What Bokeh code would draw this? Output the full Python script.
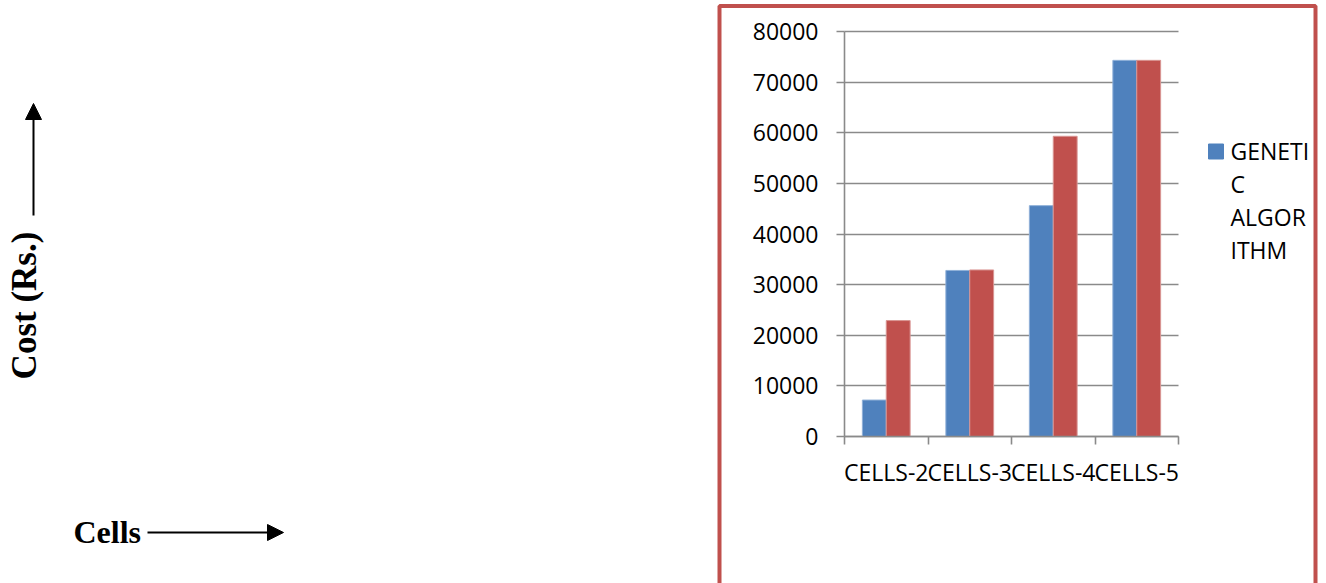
import math
from bokeh.plotting import figure
from bokeh.models import (Range1d, LinearAxis, FixedTicker, Grid, Arrow, NormalHead,
                          ColumnDataSource)
from bokeh.transform import dodge
from bokeh.core.properties import value
from bokeh.embed import file_html
from bokeh.resources import INLINE

# ---- data ----
categories = ["CELLS-2", "CELLS-3", "CELLS-4", "CELLS-5"]
genetic = [7200, 32800, 45600, 74300]
other = [22900, 32900, 59300, 74300]
y_ticks = [0, 10000, 20000, 30000, 40000, 50000, 60000, 70000, 80000]
legend_lines = ["GENETI", "C", "ALGOR", "ITHM"]
y_title = "Cost (Rs.)"
x_title = "Cells"

W, H = 1326, 583
BLUE = "#4F81BD"
RED = "#C0504D"
GRID = "#8a8a8a"
FONT = "Open Sans"
FS = "23px"

# pixel geometry of the plotting area
px_left, px_right, px_top, px_bottom = 844.0, 1178.0, 31.0, 436.0
n = len(categories)
ux = (px_right - px_left) / n
uy = (px_bottom - px_top) / y_ticks[-1]
x0 = -px_left / ux
x1 = (W - px_left) / ux
y1 = y_ticks[-1] + px_top / uy
y0 = -(H - px_bottom) / uy

p = figure(width=W, height=H, output_backend="svg", toolbar_location=None,
           x_range=Range1d(x0, x1), y_range=Range1d(y0, y1),
           x_axis_location=None, y_axis_location=None,
           min_border=0, min_border_left=0, min_border_right=0,
           min_border_top=0, min_border_bottom=0,
           outline_line_color=None, background_fill_color="white",
           border_fill_color="white")
p.grid.visible = False
p.extra_x_ranges = {"px": Range1d(0, W)}
p.extra_y_ranges = {"px": Range1d(H, 0)}

# red frame around the chart
p.quad(left=[719], right=[1315], top=[5.5], bottom=[640], fill_color=None,
       line_color=RED, line_width=4, x_range_name="px", y_range_name="px")

# grid
ygrid = Grid(dimension=1, ticker=FixedTicker(ticks=y_ticks), bounds=(0, y_ticks[-1]),
             cross_bounds=(0, n), grid_line_color=GRID, grid_line_width=1.6)
p.add_layout(ygrid)

# bars
centers = [i + 0.5 for i in range(n)]
src = ColumnDataSource(dict(x=centers, genetic=genetic, other=other))
bw = 0.286
p.vbar(x=dodge("x", -0.143, range=p.x_range), top="genetic", bottom=0, width=bw,
       source=src, fill_color=BLUE, line_color="#8fb0d8", line_width=1)
p.vbar(x=dodge("x", 0.143, range=p.x_range), top="other", bottom=0, width=bw,
       source=src, fill_color=RED, line_color="#d99593", line_width=1)

# axes
yaxis = LinearAxis(fixed_location=0, ticker=FixedTicker(ticks=y_ticks),
                   bounds=(0, y_ticks[-1]), axis_line_color=GRID, axis_line_width=1.6,
                   major_tick_line_color=GRID, major_tick_line_width=1.6,
                   major_tick_out=8, major_tick_in=0, minor_tick_line_color=None,
                   major_label_text_font=FONT, major_label_text_font_size=FS,
                   major_label_text_color="black", major_label_standoff=18)
p.add_layout(yaxis, "left")

overrides = {c: lab for c, lab in zip(centers, categories)}
xaxis = LinearAxis(fixed_location=0,
                   ticker=FixedTicker(ticks=centers, minor_ticks=list(range(n + 1))),
                   bounds=(0, n), axis_line_color=GRID, axis_line_width=1.6,
                   major_tick_line_color=None, major_tick_out=0, major_tick_in=0,
                   minor_tick_line_color=GRID, minor_tick_line_width=1.6,
                   minor_tick_out=8, minor_tick_in=0,
                   major_label_overrides=overrides,
                   major_label_text_font=FONT, major_label_text_font_size=FS,
                   major_label_text_color="black", major_label_standoff=11)
p.add_layout(xaxis, "below")

# legend (manual, wrapped like the original)
p.scatter(x=[1215.5], y=[151], marker="square", size=15, fill_color=BLUE,
          line_color=BLUE, x_range_name="px", y_range_name="px")
p.text(x=[1230] * len(legend_lines), y=[150 + 33.3 * i for i in range(len(legend_lines))],
       text=legend_lines, text_font=value(FONT), text_font_size=FS,
       text_baseline="middle", text_align="left", text_color="black",
       x_range_name="px", y_range_name="px")

# left annotations
p.text(x=[24], y=[305], text=[y_title], angle=math.pi / 2, text_align="center",
       text_baseline="middle", text_font=value("Liberation Serif"),
       text_font_style="bold", text_font_size="35px", text_color="black",
       x_range_name="px", y_range_name="px")
p.add_layout(Arrow(x_start=33, y_start=215, x_end=33, y_end=103,
                   end=NormalHead(size=16, fill_color="black", line_color="black"),
                   line_width=2, line_color="black",
                   x_range_name="px", y_range_name="px"))
p.text(x=[73], y=[531], text=[x_title], text_align="left", text_baseline="middle",
       text_font=value("Liberation Serif"), text_font_style="bold",
       text_font_size="32px", text_color="black",
       x_range_name="px", y_range_name="px")
p.add_layout(Arrow(x_start=147, y_start=532, x_end=283, y_end=532,
                   end=NormalHead(size=16, fill_color="black", line_color="black"),
                   line_width=2, line_color="black",
                   x_range_name="px", y_range_name="px"))

open("out.html", "w").write(file_html(p, INLINE))
